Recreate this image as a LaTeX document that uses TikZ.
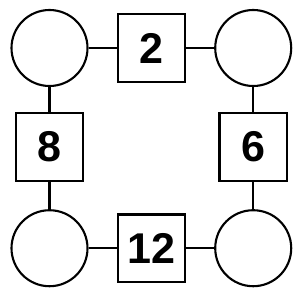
\documentclass[tikz,border=0pt]{standalone}
\usepackage{fontspec}
\setmainfont{Liberation Sans}
\usetikzlibrary{positioning}

\begin{document}
\begin{tikzpicture}[font=\fontsize{24.5}{28}\selectfont\bfseries, line width=1.2pt, ring/.style={draw, circle, minimum size=1.52cm, inner sep=0pt}, numbox/.style={draw, rectangle, minimum size=1.35cm, inner sep=0pt}]
\useasboundingbox (-0.99,0.96) rectangle (5.01,-5.04);
\node[ring] (tl) at (0,0) {};
\node[numbox, right=0.56cm of tl] (top) {2};
\node[ring, right=0.56cm of top] (tr) {};
\node[numbox, below=0.5cm of tl] (left) {8};
\node[ring, below=0.55cm of left] (bl) {};
\node[numbox, right=0.56cm of bl] (bottom) {12};
\node[ring, right=0.56cm of bottom] (br) {};
\node[numbox, below=0.5cm of tr] (right) {6};
\draw (tl) -- (top);
\draw (top) -- (tr);
\draw (tl) -- (left);
\draw (left) -- (bl);
\draw (bl) -- (bottom);
\draw (bottom) -- (br);
\draw (tr) -- (right);
\draw (right) -- (br);
\end{tikzpicture}
\end{document}
